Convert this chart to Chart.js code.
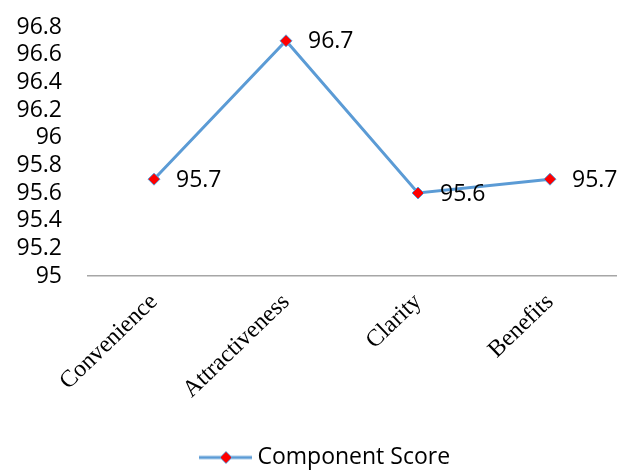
<!DOCTYPE html>
<html lang="en">
<head>
    <meta charset="UTF-8">
    <title>Component Score</title>
    <style>
        html, body { margin: 0; padding: 0; background: #fff; }
        .container { width: 619px; height: 473px; }
    </style>
</head>
<body>
    <div class="container">
        <canvas id="myChart"></canvas>
    </div>
    <script src="https://cdn.jsdelivr.net/npm/chart.js"></script>
    <script>
        const categories = ['Convenience', 'Attractiveness', 'Clarity', 'Benefits'];
        const scores = [95.7, 96.7, 95.6, 95.7];
        const seriesName = 'Component Score';
        const yMin = 95, yMax = 96.8, yStep = 0.2;

        const lineColor = '#5b9bd5';
        const sansFont = "'Open Sans', 'Noto Sans', sans-serif";
        const serifFont = "'Liberation Serif', 'DejaVu Serif', serif";

        // legend sample: short line with a diamond on it
        function legendSymbol() {
            const c = document.createElement('canvas');
            c.width = 90; c.height = 14;
            const g = c.getContext('2d');
            g.strokeStyle = lineColor;
            g.lineWidth = 3;
            g.beginPath(); g.moveTo(31, 7); g.lineTo(84, 7); g.stroke();
            g.fillStyle = '#ff0000';
            g.strokeStyle = lineColor;
            g.lineWidth = 1;
            g.beginPath();
            g.moveTo(58, 1); g.lineTo(64, 7); g.lineTo(58, 13); g.lineTo(52, 7);
            g.closePath(); g.fill(); g.stroke();
            return c;
        }

        const valueLabels = {
            id: 'valueLabels',
            afterDatasetsDraw(chart) {
                const { ctx } = chart;
                const meta = chart.getDatasetMeta(0);
                ctx.save();
                ctx.font = "23px " + sansFont;
                ctx.fillStyle = '#000';
                ctx.textAlign = 'left';
                ctx.textBaseline = 'middle';
                meta.data.forEach((pt, i) => {
                    ctx.fillText(scores[i].toFixed(1), pt.x + 22, pt.y + 1);
                });
                ctx.restore();
            }
        };

        const ctx = document.querySelector('#myChart').getContext('2d');
        new Chart(ctx, {
            type: 'line',
            data: {
                labels: categories,
                datasets: [{
                    label: seriesName,
                    data: scores,
                    borderColor: lineColor,
                    borderWidth: 3,
                    pointStyle: 'rectRot',
                    pointRadius: 6,
                    pointHoverRadius: 6,
                    pointBackgroundColor: '#ff0000',
                    pointBorderColor: lineColor,
                    pointBorderWidth: 1,
                    tension: 0
                }]
            },
            plugins: [valueLabels],
            options: {
                responsive: true,
                maintainAspectRatio: false,
                animation: false,
                layout: { autoPadding: false, padding: { top: 27, left: 14, right: 3, bottom: -6 } },
                plugins: {
                    tooltip: { enabled: false },
                    legend: {
                        position: 'bottom',
                        labels: {
                            usePointStyle: true,
                            pointStyle: legendSymbol(),
                            pointStyleWidth: 66,
                            color: '#000',
                            font: { family: sansFont, size: 23 },
                            padding: 4
                        }
                    }
                },
                scales: {
                    x: {
                        offset: true,
                        grid: { display: false, drawTicks: false },
                        border: { display: true, color: '#a6a6a6', width: 1.5 },
                        ticks: {
                            color: '#000',
                            minRotation: 44,
                            maxRotation: 44,
                            padding: 12,
                            font: { family: serifFont, size: 24 }
                        },
                        afterFit(scale) {
                            scale.height = 166;
                            scale.paddingLeft = 0;
                            scale.paddingRight = 0;
                        }
                    },
                    y: {
                        min: yMin,
                        max: yMax,
                        grid: { display: false, drawTicks: false },
                        border: { display: false },
                        ticks: {
                            stepSize: yStep,
                            autoSkip: false,
                            color: '#000',
                            padding: 26,
                            font: { family: sansFont, size: 23 },
                            callback: v => String(parseFloat(v.toFixed(1)))
                        },
                        afterFit(scale) {
                            scale.width = 74;
                            scale.paddingTop = 10;
                            scale.paddingBottom = 10;
                        }
                    }
                }
            }
        });
    </script>
</body>
</html>
